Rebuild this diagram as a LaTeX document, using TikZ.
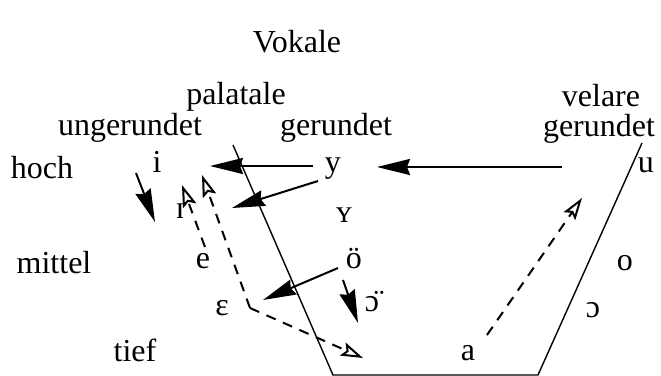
\documentclass[tikz,border=0pt]{standalone}
\usepackage{fontspec}
\setmainfont{Liberation Serif}
\usetikzlibrary{arrows.meta}

\begin{document}
\begin{tikzpicture}[x=0.5pt,y=-0.5pt,
    font=\fontsize{16}{18}\selectfont,
    every node/.style={inner sep=1pt},
    vowel/.style={inner sep=0pt, text height=1.5ex, text depth=0.25ex},
    solidarr/.style={line width=1pt, -{Stealth[length=16.5pt,width=8pt,inset=1.5pt]}},
    dasharr/.style={line width=1pt, dash pattern=on 5pt off 4pt, -{Stealth[open,length=11pt,width=7pt,inset=2pt]}},
    rim/.style={line width=0.7pt}]
    \useasboundingbox (0,0) rectangle (661,376);
    % headings
    \node (vokale) at (297,42) {Vokale};
    \node (palatale) at (236,97) {palatale};
    \node (velare) at (601,96) {velare};
    \node (ungerundet) at (130,128) {ungerundet};
    \node (gerundet) at (336,128) {gerundet};
    \node (velgerundet) at (599,129) {gerundet};
    \node (hoch) at (42,168) {hoch};
    \node (mittel) at (54,263) {mittel};
    \node (tief) at (135,350) {tief};
    % vowels
    \node[vowel] (i) at (157,167) {i};
    \node[vowel] (y) at (333,167) {y};
    \node[vowel] (u) at (646,167) {u};
    \node[vowel] (I) at (180,213) {ɪ};
    \node[vowel] (Y) at (344,217) {ʏ};
    \node[vowel] (e) at (203,263) {e};
    \node[vowel] (oe) at (354,263) {ö};
    \node[vowel] (o) at (625,265) {o};
    \node[vowel] (eps) at (222,310) {ɛ};
    \node[vowel] (oo) at (372,306) {ɔ̈};
    \node[vowel] (oc) at (593,312) {ɔ};
    \node[vowel] (a) at (468,355) {a};
    % vowel trapezoid
    \coordinate (tl) at (233,145);
    \coordinate (bl) at (333,375);
    \coordinate (br) at (538,375);
    \coordinate (tr) at (642,143);
    \draw[rim] (tl) -- (bl) -- (br) -- (tr);
    % arrow ends
    \coordinate (y-w) at (313,166);
    \coordinate (i-e) at (210,166);
    \coordinate (u-w) at (562,167);
    \coordinate (y-e) at (377,167);
    \coordinate (y-sw) at (318,181);
    \coordinate (I-e) at (232,208);
    \coordinate (i-top) at (136,173);
    \coordinate (i-low) at (155,222);
    \coordinate (oe-w) at (338,268);
    \coordinate (eps-e) at (263,300);
    \coordinate (oe-s) at (343,280);
    \coordinate (oo-n) at (358,323);
    \coordinate (e-n) at (205,247);
    \coordinate (I-s) at (182,185);
    \coordinate (eps-ne) at (250,308);
    \coordinate (i-se) at (202,175);
    \coordinate (a-w) at (363,358);
    \coordinate (a-ne) at (487,335);
    \coordinate (u-sw) at (582,198);
    % shifts
    \draw[solidarr] (y-w) -- (i-e);
    \draw[solidarr] (u-w) -- (y-e);
    \draw[solidarr] (y-sw) -- (I-e);
    \draw[solidarr] (i-top) -- (i-low);
    \draw[solidarr] (oe-w) -- (eps-e);
    \draw[solidarr] (oe-s) -- (oo-n);
    \draw[dasharr] (e-n) -- (I-s);
    \draw[dasharr] (eps-ne) -- (i-se);
    \draw[dasharr] (eps-ne) -- (a-w);
    \draw[dasharr] (a-ne) -- (u-sw);
\end{tikzpicture}
\end{document}
